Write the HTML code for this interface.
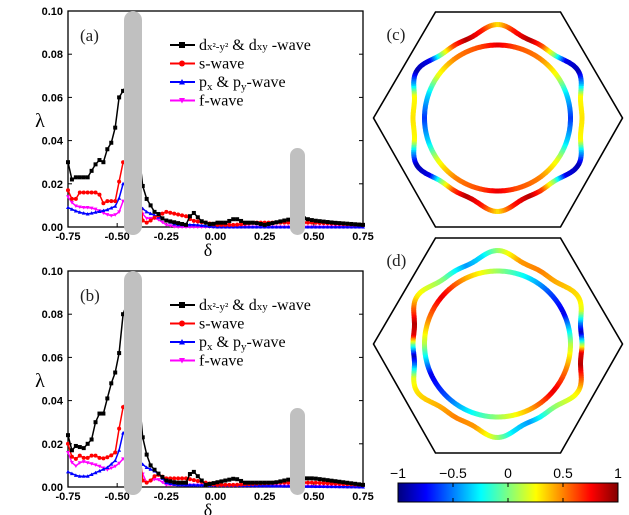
<!DOCTYPE html><html><head><meta charset="utf-8"><style>body{margin:0;background:#fff}svg{display:block}</style></head><body>
<svg id="s" width="629" height="515" xmlns="http://www.w3.org/2000/svg" font-family="Liberation Sans, sans-serif"></svg>
<script>
const S=document.getElementById('s');let h='';
function jet(v){let t=(v+1)/2;t=Math.max(0,Math.min(1,t));
 const f=x=>Math.max(0,Math.min(1,1.5-Math.abs(4*t-x)));
 return `rgb(${Math.round(255*f(3))},${Math.round(255*f(2))},${Math.round(255*f(1))})`;}
function interp(tab,x){for(let i=0;i<tab.length-1;i++){if(x>=tab[i][0]&&x<=tab[i+1][0]){const a=tab[i],b=tab[i+1];return a[1]+(b[1]-a[1])*(x-a[0])/(b[0]-a[0]);}}return tab[tab.length-1][1];}
function plot(oy,data,lab,legY){
 const X=d=>68+(d+0.75)/1.5*295,Y=v=>oy+216-v*2160;
 h+=`<rect x="68" y="${oy}" width="295" height="216" fill="none" stroke="#000" stroke-width="1.3"/>`;
 for(let i=0;i<=5;i++){const v=i*0.02,y=Y(v);h+=`<line x1="68" x2="72" y1="${y}" y2="${y}" stroke="#000"/><line x1="363" x2="359" y1="${y}" y2="${y}" stroke="#000"/><text x="63" y="${y+4}" font-size="11" font-weight="bold" text-anchor="end">${v.toFixed(2)}</text>`;}
 for(let i=0;i<=6;i++){const d=-0.75+i*0.25,x=X(d);h+=`<line x1="${x}" x2="${x}" y1="${oy+216}" y2="${oy+212}" stroke="#000"/><text x="${x}" y="${oy+229}" font-size="11" font-weight="bold" text-anchor="middle">${d.toFixed(2)}</text>`;}
 h+=`<text x="40" y="${oy+116}" font-size="20" font-family="Liberation Serif,serif" text-anchor="middle">λ</text><text x="208" y="${oy+245}" font-size="18" font-family="Liberation Serif,serif" text-anchor="middle">δ</text>`;
 h+=`<text x="80" y="${oy+30}" font-size="17" font-family="Liberation Serif,serif" fill="#222">${lab}</text>`;
 const cols=['#f0f','#00f','#f00','#000'];
 data.forEach((tab,k)=>{let pts=[];for(let d=-0.75;d<=0.7501;d+=0.02){pts.push([X(d),Y(interp(tab,d))]);}
  h+=`<polyline points="${pts.map(p=>p[0].toFixed(1)+','+p[1].toFixed(1)).join(' ')}" fill="none" stroke="${cols[k]}" stroke-width="1.5"/>`;
  pts.forEach(p=>{if(k==3)h+=`<rect x="${p[0]-2}" y="${p[1]-2}" width="4" height="4" fill="#000"/>`;else if(k==2)h+=`<circle cx="${p[0]}" cy="${p[1]}" r="2" fill="#f00"/>`;else if(k==1)h+=`<path d="M${p[0]-2} ${p[1]+1.5}L${p[0]+2} ${p[1]+1.5}L${p[0]} ${p[1]-2}Z" fill="#00f"/>`;else h+=`<path d="M${p[0]-2} ${p[1]-1.5}L${p[0]+2} ${p[1]-1.5}L${p[0]} ${p[1]+2}Z" fill="#f0f"/>`;});});
 h+=`<rect x="124" y="${oy}" width="18" height="224" rx="9" fill="#c0c0c0"/><rect x="290" y="${oy+137}" width="15" height="87" rx="7.5" fill="#c0c0c0"/>`;
 const L=[['#000','d<tspan font-size="11">x²-y²</tspan> &amp; d<tspan font-size="11">xy</tspan> -wave','sq'],['#f00','s-wave','c'],['#00f','p<tspan font-size="11" dy="3">x</tspan><tspan dy="-3"> &amp; p</tspan><tspan font-size="11" dy="3">y</tspan><tspan dy="-3">-wave</tspan>','t'],['#f0f','f-wave','v']];
 L.forEach((l,i)=>{const y=legY+i*18.5;h+=`<line x1="170" x2="195" y1="${y}" y2="${y}" stroke="${l[0]}" stroke-width="2"/>`;
  if(l[2]=='sq')h+=`<rect x="179" y="${y-3}" width="6" height="6" fill="#000"/>`;else if(l[2]=='c')h+=`<circle cx="182" cy="${y}" r="3" fill="#f00"/>`;else if(l[2]=='t')h+=`<path d="M179 ${y+2.5}L185 ${y+2.5}L182 ${y-3}Z" fill="#00f"/>`;else h+=`<path d="M179 ${y-2.5}L185 ${y-2.5}L182 ${y+3}Z" fill="#f0f"/>`;
  h+=`<text x="199" y="${y+5}" font-size="16" font-family="Liberation Serif,serif">${l[1]}</text>`;});
}
const A=[
[[-0.75,0.014],[-0.72,0.01],[-0.68,0.009],[-0.64,0.009],[-0.6,0.008],[-0.56,0.006],[-0.52,0.005],[-0.49,0.007],[-0.47,0.012],[-0.45,0.012],[-0.41,0.012],[-0.39,0.008],[-0.35,0.004],[-0.3,0.004],[-0.25,0.001],[-0.2,0],[0.75,0]],
[[-0.75,0.009],[-0.7,0.007],[-0.65,0.006],[-0.6,0.007],[-0.55,0.008],[-0.5,0.01],[-0.47,0.02],[-0.45,0.02],[-0.41,0.015],[-0.39,0.01],[-0.35,0.007],[-0.3,0.005],[-0.25,0.003],[-0.2,0.001],[-0.1,0.001],[0,0],[0.75,0]],
[[-0.75,0.017],[-0.73,0.013],[-0.71,0.013],[-0.69,0.016],[-0.65,0.016],[-0.61,0.016],[-0.59,0.015],[-0.57,0.011],[-0.55,0.012],[-0.51,0.012],[-0.49,0.021],[-0.47,0.03],[-0.45,0.032],[-0.41,0.03],[-0.39,0.02],[-0.37,0.003],[-0.35,0.002],[-0.33,0.003],[-0.3,0.005],[-0.25,0.007],[-0.2,0.006],[-0.15,0.005],[-0.12,0.003],[-0.05,0.002],[0,0.001],[0.1,0.001],[0.2,0.002],[0.5,0.002],[0.75,0.001]],
[[-0.75,0.03],[-0.73,0.022],[-0.71,0.023],[-0.65,0.023],[-0.63,0.026],[-0.61,0.029],[-0.59,0.031],[-0.57,0.030],[-0.55,0.036],[-0.53,0.039],[-0.51,0.046],[-0.49,0.06],[-0.47,0.063],[-0.45,0.066],[-0.41,0.06],[-0.39,0.035],[-0.37,0.019],[-0.35,0.013],[-0.33,0.01],[-0.31,0.007],[-0.29,0.006],[-0.27,0.004],[-0.25,0.003],[-0.2,0.002],[-0.15,0.001],[-0.12,0.007],[-0.1,0.006],[-0.08,0.003],[-0.05,0.002],[-0.02,0.001],[0,0.002],[0.05,0.002],[0.1,0.004],[0.15,0.002],[0.2,0.002],[0.25,0.001],[0.3,0.002],[0.35,0.003],[0.4,0.004],[0.45,0.004],[0.5,0.003],[0.6,0.002],[0.75,0.001]]];
const B=[
[[-0.75,0.016],[-0.72,0.009],[-0.68,0.012],[-0.64,0.011],[-0.6,0.01],[-0.55,0.008],[-0.5,0.01],[-0.47,0.013],[-0.45,0.014],[-0.41,0.012],[-0.39,0.01],[-0.35,0.002],[-0.3,0.004],[-0.25,0.001],[0.75,0]],
[[-0.75,0.007],[-0.7,0.005],[-0.65,0.005],[-0.6,0.007],[-0.55,0.009],[-0.5,0.013],[-0.47,0.025],[-0.45,0.026],[-0.41,0.016],[-0.39,0.012],[-0.35,0.009],[-0.3,0.007],[-0.25,0.002],[-0.2,0.001],[0.75,0]],
[[-0.75,0.02],[-0.72,0.011],[-0.7,0.015],[-0.66,0.013],[-0.62,0.015],[-0.58,0.013],[-0.54,0.014],[-0.51,0.016],[-0.49,0.027],[-0.47,0.037],[-0.45,0.04],[-0.41,0.03],[-0.39,0.02],[-0.37,0.003],[-0.35,0.002],[-0.33,0.003],[-0.3,0.006],[-0.25,0.004],[-0.15,0.004],[-0.1,0.003],[0,0.001],[0.1,0.001],[0.3,0.002],[0.5,0.002],[0.75,0.001]],
[[-0.75,0.024],[-0.73,0.017],[-0.71,0.019],[-0.67,0.018],[-0.63,0.022],[-0.61,0.03],[-0.59,0.034],[-0.57,0.034],[-0.55,0.041],[-0.53,0.048],[-0.51,0.053],[-0.49,0.062],[-0.47,0.08],[-0.45,0.085],[-0.41,0.07],[-0.39,0.043],[-0.37,0.023],[-0.35,0.015],[-0.33,0.01],[-0.3,0.007],[-0.25,0.003],[-0.2,0.002],[-0.15,0.002],[-0.12,0.008],[-0.1,0.006],[-0.05,0.001],[0,0.002],[0.1,0.004],[0.15,0.002],[0.3,0.002],[0.4,0.004],[0.45,0.004],[0.5,0.004],[0.75,0.001]]];
plot(11,A,'(a)',45);plot(271,B,'(b)',305);
function fs(cx,cy,lab,outT,inT,per){
 h+=`<polygon points="${cx-124},${cy} ${cx-62},${cy-106} ${cx+63},${cy-106} ${cx+125},${cy} ${cx+63},${cy+109} ${cx-62},${cy+109}" fill="none" stroke="#000" stroke-width="1.6"/>`;
 h+=`<text x="${cx-111}" y="${cy-78}" font-size="17" font-family="Liberation Serif,serif" fill="#222">${lab}</text>`;
 const N=360;
 const ring=(rf,tab)=>{for(let i=0;i<N;i++){const a1=i*2*Math.PI/N,a2=(i+1.3)*2*Math.PI/N;const deg=(i+0.5)%per;
  const v=interp(tab,deg);const r1=rf(a1),r2=rf(a2);
  h+=`<line x1="${(cx+r1*Math.cos(a1)).toFixed(1)}" y1="${(cy-r1*Math.sin(a1)).toFixed(1)}" x2="${(cx+r2*Math.cos(a2)).toFixed(1)}" y2="${(cy-r2*Math.sin(a2)).toFixed(1)}" stroke="${jet(v)}" stroke-width="5"/>`;}};
 ring(a=>87.5-4.5*Math.cos(6*a)+1.5*Math.cos(12*a),outT);
 ring(a=>73,inT);
}
const mir=t=>{let r=t.slice();for(let i=t.length-2;i>=0;i--)r.push([180-t[i][0],t[i][1]]);return r;};
const cOut=mir([[0,0.3],[15,0.25],[22,-0.4],[30,-0.9],[40,-0.8],[48,0.0],[58,0.6],[68,0.9],[80,0.7],[90,0.3]]);
const cIn=mir([[0,-0.65],[20,-0.3],[35,0.2],[55,0.5],[75,0.6],[90,0.8]]);
fs(497.5,118,'(c)',cOut,cIn,180);
const dOut=[[0,0],[8,-0.9],[14,-0.5],[22,0.2],[30,0.3],[45,0.4],[60,0.5],[75,0.45],[85,0.2],[90,0.05],[100,-0.3],[112,-0.45],[130,0],[150,0.3],[166,0.9],[174,0.8],[180,0]];
const dIn=[[0,0.1],[25,-0.8],[45,-0.6],[65,-0.3],[90,0.05],[115,0.4],[140,0.8],[160,0.5],[180,0.1]];
fs(497.5,344,'(d)',dOut,dIn,180);
for(let i=0;i<220;i++){h+=`<rect x="${398+i}" y="483" width="1.2" height="19" fill="${jet(-1+2*i/220)}"/>`;}
h+=`<rect x="398" y="483" width="220" height="19" fill="none" stroke="#000"/>`;
[-1,-0.5,0,0.5,1].forEach((v,i)=>{const x=398+i*55;h+=`<text x="${x}" y="478" font-size="14" text-anchor="middle">${v==-1?'−1':v==-0.5?'−0.5':v}</text>`;if(i>0&&i<4)h+=`<line x1="${x}" x2="${x}" y1="483" y2="487" stroke="#000"/><line x1="${x}" x2="${x}" y1="502" y2="498" stroke="#000"/>`;});
S.innerHTML=h;
</script></body></html>
